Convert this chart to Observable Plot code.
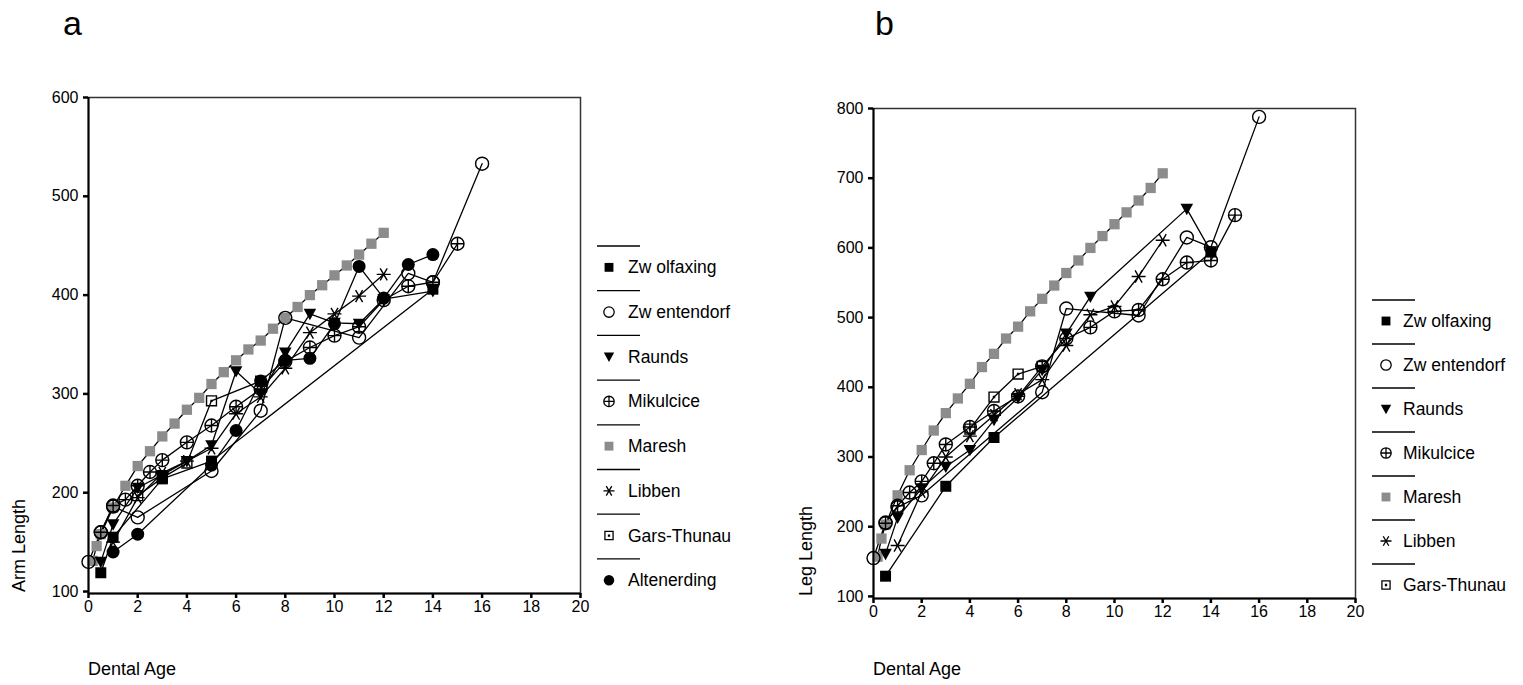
<!DOCTYPE html>
<html><head><meta charset="utf-8">
<script src="https://cdn.jsdelivr.net/npm/d3@7"></script>
<script src="https://cdn.jsdelivr.net/npm/@observablehq/plot@0.6"></script>
<style>
body{margin:0;background:#fff;}
#wrap{position:relative;width:1523px;height:685px;overflow:hidden;font-family:"Liberation Sans",Arial,sans-serif;background:#fff;}
#wrap svg{position:absolute;top:0;}
</style></head><body><div id="wrap"></div>
<script>
// ---------- tick labels ----------
const xTicks = [0, 2, 4, 6, 8, 10, 12, 14, 16, 18, 20];
const armTicks = [100, 200, 300, 400, 500, 600];
const legTicks = [100, 200, 300, 400, 500, 600, 700, 800];

// ---------- series names ----------
const seriesA = ["Zw olfaxing", "Zw entendorf", "Raunds", "Mikulcice", "Maresh", "Libben", "Gars-Thunau", "Altenerding"];
const seriesB = ["Zw olfaxing", "Zw entendorf", "Raunds", "Mikulcice", "Maresh", "Libben", "Gars-Thunau"];

// ---------- panel a: arm length [dental age, length] ----------
const armZwolfaxing = [[0.5,119],[1,155],[3,214],[5,232],[14,406]];
const armZwentendorf = [[0,130],[0.5,160],[1,186],[2,175],[5,222],[7,283],[8,377],[11,357],[13,422],[14,413],[16,533]];
const armRaunds = [[0.5,130],[1,168],[2,205],[3,218],[4,232],[5,248],[6,323],[7,300],[8,342],[9,381],[10,372],[11,371],[12,396],[14,404]];
const armMikulcice = [[0.5,160],[1,187],[1.5,193],[2,207],[2.5,221],[3,233],[4,251],[5,268],[6,287],[7,305],[8,333],[9,347],[10,359],[11,368],[12,395],[13,409],[14,413],[15,452]];
const armMaresh = [[0.17,131],[0.33,146],[0.5,158],[1,185],[1.5,207],[2,227],[2.5,242],[3,257],[3.5,270],[4,284],[4.5,296],[5,310],[5.5,322],[6,334],[6.5,345],[7,354],[7.5,366],[8,377],[8.5,388],[9,400],[9.5,410],[10,420],[10.5,430],[11,441],[11.5,452],[12,463]];
const armLibben = [[1,150],[2,195],[3,220],[4,232],[5,245],[6,280],[7,297],[8,326],[9,362],[10,381],[11,399],[12,421]];
const armGarsThunau = [[2,197],[3,215],[4,230],[5,293],[7,313]];
const armAltenerding = [[1,140],[2,158],[5,228],[6,263],[7,313],[8,334],[9,336],[10,371],[11,429],[12,397],[13,431],[14,441]];

// ---------- panel b: leg length [dental age, length] ----------
const legZwolfaxing = [[0.5,129],[3,258],[5,328],[14,594]];
const legZwentendorf = [[0,155],[0.5,206],[1,228],[2,245],[7,393],[8,513],[11,503],[13,615],[14,601],[16,788]];
const legRaunds = [[0.5,161],[1,213],[2,255],[3,286],[4,310],[5,353],[6,385],[7,425],[8,477],[9,530],[13,656],[14,595]];
const legMikulcice = [[0.5,205],[1,230],[1.5,249],[2,265],[2.5,291],[3,318],[4,343],[5,366],[6,387],[7,430],[8,470],[9,486],[10,509],[11,511],[12,555],[13,579],[14,582],[15,647]];
const legMaresh = [[0.17,157],[0.33,183],[0.5,203],[1,245],[1.5,281],[2,310],[2.5,338],[3,363],[3.5,384],[4,405],[4.5,429],[5,448],[5.5,470],[6,487],[6.5,509],[7,527],[7.5,546],[8,564],[8.5,582],[9,600],[9.5,617],[10,634],[10.5,651],[11,668],[11.5,686],[12,707]];
const legLibben = [[1,173],[2,250],[3,300],[4,330],[5,360],[6,390],[7,411],[8,460],[9,504],[10,516],[11,559],[12,611]];
const legGarsThunau = [[4,340],[5,386],[6,419],[7,430]];

const dataA = [armZwolfaxing, armZwentendorf, armRaunds, armMikulcice, armMaresh, armLibben, armGarsThunau, armAltenerding];
const dataB = [legZwolfaxing, legZwentendorf, legRaunds, legMikulcice, legMaresh, legLibben, legGarsThunau];

// ---------- marker symbols ----------
const sym = {
  square: {draw(c, s) { const h = Math.sqrt(s) / 2; c.rect(-h, -h, 2 * h, 2 * h); }},
  circle: {draw(c, s) { const r = Math.sqrt(s / Math.PI); c.moveTo(r, 0); c.arc(0, 0, r, 0, 2 * Math.PI); }},
  triDown: {draw(c, s) { const r = Math.sqrt(s / Math.PI); c.moveTo(-r, -0.8 * r); c.lineTo(r, -0.8 * r); c.lineTo(0, r); c.closePath(); }},
  circlePlus: {draw(c, s) { const r = Math.sqrt(s / Math.PI); c.moveTo(r, 0); c.arc(0, 0, r, 0, 2 * Math.PI); c.moveTo(-r, 0); c.lineTo(r, 0); c.moveTo(0, -r); c.lineTo(0, r); }},
  asterisk: {draw(c, s) { const r = Math.sqrt(s / Math.PI); c.moveTo(-r, 0); c.lineTo(r, 0); c.moveTo(-0.5 * r, -0.866 * r); c.lineTo(0.5 * r, 0.866 * r); c.moveTo(-0.5 * r, 0.866 * r); c.lineTo(0.5 * r, -0.866 * r); }},
  squareDot: {draw(c, s) { const h = Math.sqrt(s) / 2; c.rect(-h, -h, 2 * h, 2 * h); c.rect(-0.5, -0.5, 1, 1); }}
};
const styleOf = {
  "Zw olfaxing": {symbol: sym.square, fill: "black", stroke: "none", r: 6.2, lr: 5},
  "Zw entendorf": {symbol: sym.circle, fill: "none", stroke: "black", r: 6.5, lr: 5.2},
  "Raunds": {symbol: sym.triDown, fill: "black", stroke: "none", r: 6.3, lr: 5.2},
  "Mikulcice": {symbol: sym.circlePlus, fill: "none", stroke: "black", r: 6.5, lr: 5.2},
  "Maresh": {symbol: sym.square, fill: "#8c8c8c", stroke: "none", r: 5.8, lr: 5},
  "Libben": {symbol: sym.asterisk, fill: "none", stroke: "black", r: 7, lr: 5.5},
  "Gars-Thunau": {symbol: sym.squareDot, fill: "none", stroke: "black", r: 5.6, lr: 4.6},
  "Altenerding": {symbol: sym.circle, fill: "black", stroke: "none", r: 6.5, lr: 5.2}
};

function rows(names, arrays) {
  const out = [];
  names.forEach((n, i) => arrays[i].forEach(([age, val]) => out.push({series: n, age, val})));
  return out;
}

function panel(names, arrays, yTicks, yDomain, opts) {
  const table = rows(names, arrays);
  const drawOrder = ["Maresh", ...names.filter(n => n !== "Maresh")];
  const dots = drawOrder.map(n => {
    const st = styleOf[n];
    return Plot.dot(table.filter(d => d.series === n), {
      x: "age", y: "val", symbol: st.symbol, r: st.r,
      fill: st.fill, stroke: st.stroke, strokeWidth: 1.4
    });
  });
  return Plot.plot({
    width: opts.width, height: opts.height,
    marginLeft: opts.ml, marginRight: opts.mr, marginTop: opts.mt, marginBottom: opts.mb,
    x: {domain: [0, 20]},
    y: {domain: yDomain},
    style: {fontFamily: '"Liberation Sans", Arial, sans-serif', fontSize: "16px", background: "transparent", color: "black", overflow: "visible"},
    marks: [
      Plot.frame({stroke: "#333", strokeWidth: 1.5}),
      Plot.line(table, {x: "age", y: "val", z: "series", stroke: "black", strokeWidth: 1.3}),
      ...dots,
      Plot.ruleX([0], {stroke: "black", strokeWidth: 2}),
      Plot.ruleY([yDomain[0]], {stroke: "black", strokeWidth: 2}),
      Plot.axisX({ticks: xTicks, tickSize: 5, tickPadding: 2, strokeWidth: 2.5, label: null}),
      Plot.axisY({ticks: yTicks, tickSize: 5, tickPadding: 5, strokeWidth: 2.5, label: null})
    ]
  });
}

const wrap = document.getElementById("wrap");

const svgA = panel(seriesA, dataA, armTicks, [98, 600], {width: 600, height: 650, ml: 88, mr: 20, mt: 97, mb: 57});
svgA.style.left = "0px";
wrap.appendChild(svgA);

const svgB = panel(seriesB, dataB, legTicks, [97, 800], {width: 585, height: 650, ml: 88, mr: 15, mt: 108, mb: 52});
svgB.style.left = "785px";
wrap.appendChild(svgB);

// ---------- overlay: panel letters, axis titles, legends ----------
const ov = d3.select(wrap).append("svg")
  .attr("width", 1523).attr("height", 685)
  .style("left", "0px").style("font-family", '"Liberation Sans", Arial, sans-serif');

ov.append("text").attr("x", 63).attr("y", 35).attr("font-size", 34).text("a");
ov.append("text").attr("x", 875).attr("y", 35).attr("font-size", 34).text("b");

ov.append("text").attr("transform", "translate(25,592) rotate(-90)").attr("font-size", 18).text("Arm Length");
ov.append("text").attr("transform", "translate(812,596) rotate(-90)").attr("font-size", 18).text("Leg Length");
ov.append("text").attr("x", 88).attr("y", 675).attr("font-size", 18).text("Dental Age");
ov.append("text").attr("x", 873).attr("y", 675).attr("font-size", 18).text("Dental Age");

function legend(names, lx, ly, step, symX, textX) {
  names.forEach((n, i) => {
    const y0 = ly + i * step;
    const st = styleOf[n];
    ov.append("line").attr("x1", lx).attr("x2", lx + 43).attr("y1", y0).attr("y2", y0)
      .attr("stroke", "black").attr("stroke-width", 1.3);
    const cy = y0 + step / 2 - 1;
    ov.append("path")
      .attr("d", d3.symbol().type(st.symbol).size(Math.PI * st.lr * st.lr)())
      .attr("transform", `translate(${symX},${cy})`)
      .attr("fill", st.fill).attr("stroke", st.stroke).attr("stroke-width", 1.3);
    ov.append("text").attr("x", textX).attr("y", cy + 6).attr("font-size", 17.5).text(n);
  });
}
legend(seriesA, 597, 246, 44.7, 609, 628);
legend(seriesB, 1372, 300, 44, 1386, 1403);
</script></body></html>
